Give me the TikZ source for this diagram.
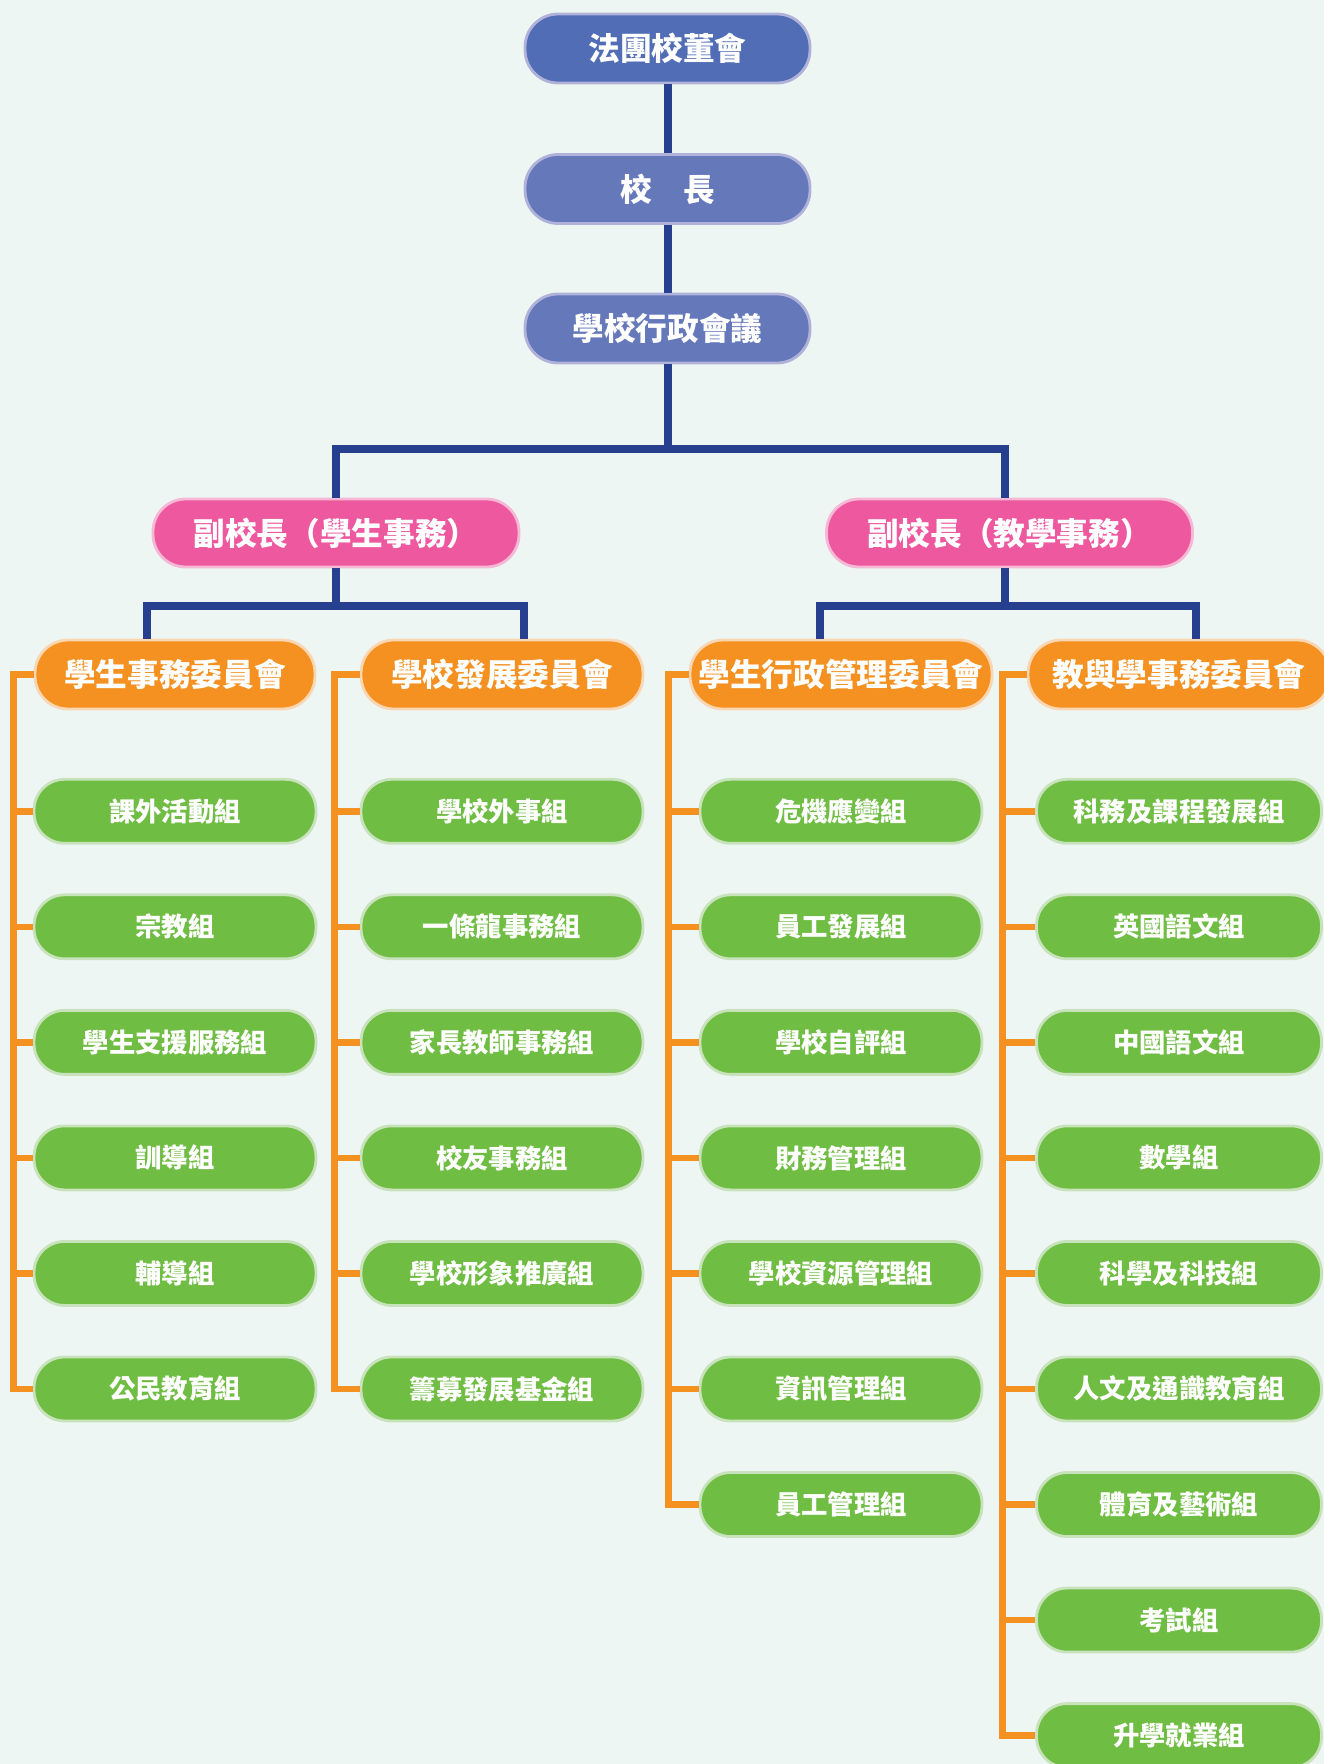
\documentclass[tikz,border=0pt]{standalone}
\usepackage{fontspec}
\usepackage{tikz}
\usetikzlibrary{positioning}
\usetikzlibrary{calc}
\newfontfamily\cjk{Noto Sans CJK TC}
\definecolor{color-bg}{RGB}{238,246,243}
\definecolor{color-top}{RGB}{81,109,181}
\definecolor{color-blue}{RGB}{100,120,186}
\definecolor{color-blue-rim}{RGB}{176,178,218}
\definecolor{color-line}{RGB}{38,63,142}
\definecolor{color-pink}{RGB}{237,88,158}
\definecolor{color-pink-rim}{RGB}{246,184,213}
\definecolor{color-orange}{RGB}{244,145,32}
\definecolor{color-orange-rim}{RGB}{251,214,178}
\definecolor{color-green}{RGB}{112,189,68}
\definecolor{color-green-rim}{RGB}{200,227,188}

\begin{document}
\begin{tikzpicture}[x=0.02cm, y=-0.02cm, node distance=0.975cm,
box/.style={rectangle, line width=1.6pt, text=white, inner sep=0pt, font=\cjk\bfseries\fontsize{18pt}{18pt}\selectfont},
head/.style={box, fill=color-blue, draw=color-blue-rim, minimum width=5.7cm, minimum height=1.38cm, rounded corners=0.66cm},
vice/.style={box, fill=color-pink, draw=color-pink-rim, minimum width=7.32cm, minimum height=1.36cm, rounded corners=0.65cm},
board/.style={box, fill=color-orange, draw=color-orange-rim, minimum width=#1, minimum height=1.38cm, rounded corners=0.66cm},
unit/.style={box, fill=color-green, draw=color-green-rim, minimum width=5.64cm, minimum height=1.28cm, rounded corners=0.61cm, font=\cjk\bfseries\fontsize{15pt}{15pt}\selectfont},
bline/.style={color-line, line width=0.16cm},
oline/.style={color-orange, line width=0.13cm}]

\fill[color-bg] (0,0) rectangle (1324,1764);
\useasboundingbox (0,0) rectangle (1324,1764);

%% top
\node [head, fill=color-top] (sb) at (667.5,48.5) {法團校董會};
\node [head] (p) at (667.5,189) {校　長};
\node [head] (adm) at (667.5,328.5) {學校行政會議};

\node [vice] (vs) at (336,533) {副校長（學生事務）};
\node [vice] (va) at (1009.5,533) {副校長（教學事務）};

%% committees
\node [board=5.6cm] (c1) at (175,674.5) {學生事務委員會};
\node [board=5.64cm] (c2) at (502,674.5) {學校發展委員會};
\node [board=6.04cm] (c3) at (841,674.5) {學生行政管理委員會};
\node [board=6.04cm] (c4) at (1179,674.5) {教與學事務委員會};

%% groups
\node [unit, below = 1.35cm of c1] (g11) {課外活動組};
\node [unit, below = of g11] (g12) {宗教組};
\node [unit, below = of g12] (g13) {學生支援服務組};
\node [unit, below = of g13] (g14) {訓導組};
\node [unit, below = of g14] (g15) {輔導組};
\node [unit, below = of g15] (g16) {公民教育組};

\node [unit, below = 1.35cm of c2] (g21) {學校外事組};
\node [unit, below = of g21] (g22) {一條龍事務組};
\node [unit, below = of g22] (g23) {家長教師事務組};
\node [unit, below = of g23] (g24) {校友事務組};
\node [unit, below = of g24] (g25) {學校形象推廣組};
\node [unit, below = of g25] (g26) {籌募發展基金組};

\node [unit, below = 1.35cm of c3] (g31) {危機應變組};
\node [unit, below = of g31] (g32) {員工發展組};
\node [unit, below = of g32] (g33) {學校自評組};
\node [unit, below = of g33] (g34) {財務管理組};
\node [unit, below = of g34] (g35) {學校資源管理組};
\node [unit, below = of g35] (g36) {資訊管理組};
\node [unit, below = of g36] (g37) {員工管理組};

\node [unit, minimum width=5.7cm, below = 1.35cm of c4] (g41) {科務及課程發展組};
\node [unit, minimum width=5.7cm, below = of g41] (g42) {英國語文組};
\node [unit, minimum width=5.7cm, below = of g42] (g43) {中國語文組};
\node [unit, minimum width=5.7cm, below = of g43] (g44) {數學組};
\node [unit, minimum width=5.7cm, below = of g44] (g45) {科學及科技組};
\node [unit, minimum width=5.7cm, below = of g45] (g46) {人文及通識教育組};
\node [unit, minimum width=5.7cm, below = of g46] (g47) {體育及藝術組};
\node [unit, minimum width=5.7cm, below = of g47] (g48) {考試組};
\node [unit, minimum width=5.7cm, below = of g48] (g49) {升學就業組};

%% blue connectors
\coordinate (j0) at ($(adm.south)+(0,85)$);
\coordinate (j1) at ($(vs.south)+(0,38)$);
\coordinate (j2) at ($(va.south)+(-5,38)$);

\draw [bline] (sb.south) -- (p.north);
\draw [bline] (p.south) -- (adm.north);
\draw [bline] (adm.south) -- (j0);
\draw [bline] (vs.north) |- (j0) -| ($(va.north)+(-5,0)$);

\draw [bline] (vs.south) -- (j1);
\draw [bline] ($(c1.north)+(-28,0)$) |- (j1) -| ($(c2.north)+(22,0)$);
\draw [bline] ($(va.south)+(-5,0)$) -- (j2);
\draw [bline] ($(c3.north)+(-21,0)$) |- (j2) -| ($(c4.north)+(17,0)$);

%% orange connectors
\coordinate (s1) at ($(c1.west)+(-20,0)$);
\coordinate (s2) at ($(c2.west)+(-25,0)$);
\coordinate (s3) at ($(c3.west)+(-20,0)$);
\coordinate (s4) at ($(c4.west)+(-24,0)$);

\draw [oline] (c1.west) -- (s1) |- (g16.west);
\draw [oline] (s1 |- g11.west) -- (g11.west) (s1 |- g12.west) -- (g12.west) (s1 |- g13.west) -- (g13.west)
  (s1 |- g14.west) -- (g14.west) (s1 |- g15.west) -- (g15.west);

\draw [oline] (c2.west) -- (s2) |- (g26.west);
\draw [oline] (s2 |- g21.west) -- (g21.west) (s2 |- g22.west) -- (g22.west) (s2 |- g23.west) -- (g23.west)
  (s2 |- g24.west) -- (g24.west) (s2 |- g25.west) -- (g25.west);

\draw [oline] (c3.west) -- (s3) |- (g37.west);
\draw [oline] (s3 |- g31.west) -- (g31.west) (s3 |- g32.west) -- (g32.west) (s3 |- g33.west) -- (g33.west)
  (s3 |- g34.west) -- (g34.west) (s3 |- g35.west) -- (g35.west) (s3 |- g36.west) -- (g36.west);

\draw [oline] (c4.west) -- (s4) |- (g49.west);
\draw [oline] (s4 |- g41.west) -- (g41.west) (s4 |- g42.west) -- (g42.west) (s4 |- g43.west) -- (g43.west)
  (s4 |- g44.west) -- (g44.west) (s4 |- g45.west) -- (g45.west) (s4 |- g46.west) -- (g46.west)
  (s4 |- g47.west) -- (g47.west) (s4 |- g48.west) -- (g48.west);

\end{tikzpicture}
\end{document}
